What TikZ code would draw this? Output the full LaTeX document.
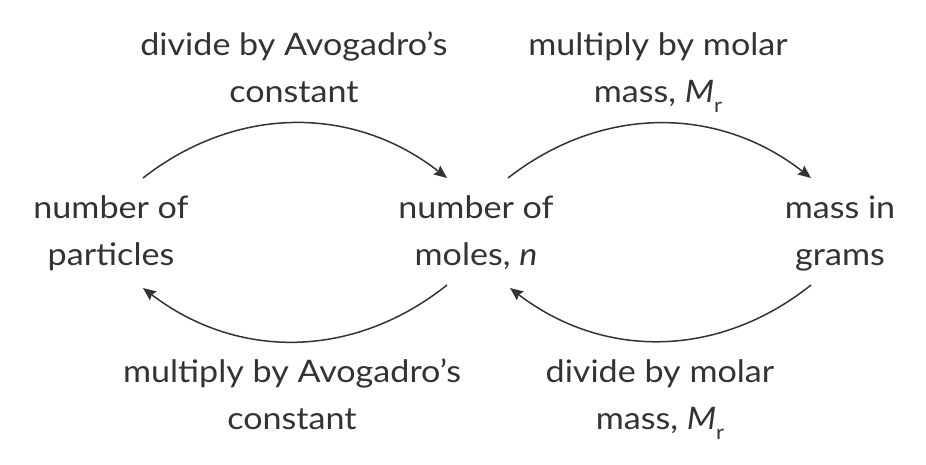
\documentclass[tikz,border=0pt]{standalone}
\usepackage{fontspec}
\setmainfont{Lato}[FakeStretch=1.1]
\usetikzlibrary{arrows.meta}
\definecolor{ink}{HTML}{333333}
\newcommand\twol[2]{\begin{tabular}[t]{@{}c@{}}#1\\#2\end{tabular}}
\newcommand\Mr{\textit{M}\raisebox{-10pt}{\fontsize{20}{20}\selectfont r}}
\begin{document}
\begin{tikzpicture}[x=1pt,y=1pt,
  lbl/.style={inner sep=0pt,anchor=base,text=ink,font=\fontsize{31}{47}\selectfont},
  conv/.style={draw=ink,line width=1.5pt,bend left=38,-{Stealth[length=13pt,width=11pt,inset=2pt]}}]
\useasboundingbox (0,0) rectangle (926,-464);
\node[lbl] (part) at (111,-218) {\twol{number of}{particles}};
\node[lbl] (moles) at (476,-218) {\twol{number of}{moles, \textit{n}}};
\node[lbl] (mass) at (840,-218) {\twol{mass in}{grams}};
\node[lbl] (t1) at (294,-55) {\twol{divide by Avogadro’s}{constant}};
\node[lbl] (t2) at (658,-55) {\twol{multiply by molar}{mass, \Mr}};
\node[lbl] (b1) at (292,-382) {\twol{multiply by Avogadro’s}{constant}};
\node[lbl] (b2) at (660,-382) {\twol{divide by molar}{mass, \Mr}};
\coordinate (a1s) at (143,-178);
\coordinate (a1e) at (447,-178);
\coordinate (a2s) at (508,-178);
\coordinate (a2e) at (811,-178);
\coordinate (a3s) at (447,-285);
\coordinate (a3e) at (143,-288);
\coordinate (a4s) at (811,-285);
\coordinate (a4e) at (510,-288);
\draw[conv] (a1s) to (a1e);
\draw[conv] (a2s) to (a2e);
\draw[conv] (a3s) to (a3e);
\draw[conv] (a4s) to (a4e);
\end{tikzpicture}
\end{document}
